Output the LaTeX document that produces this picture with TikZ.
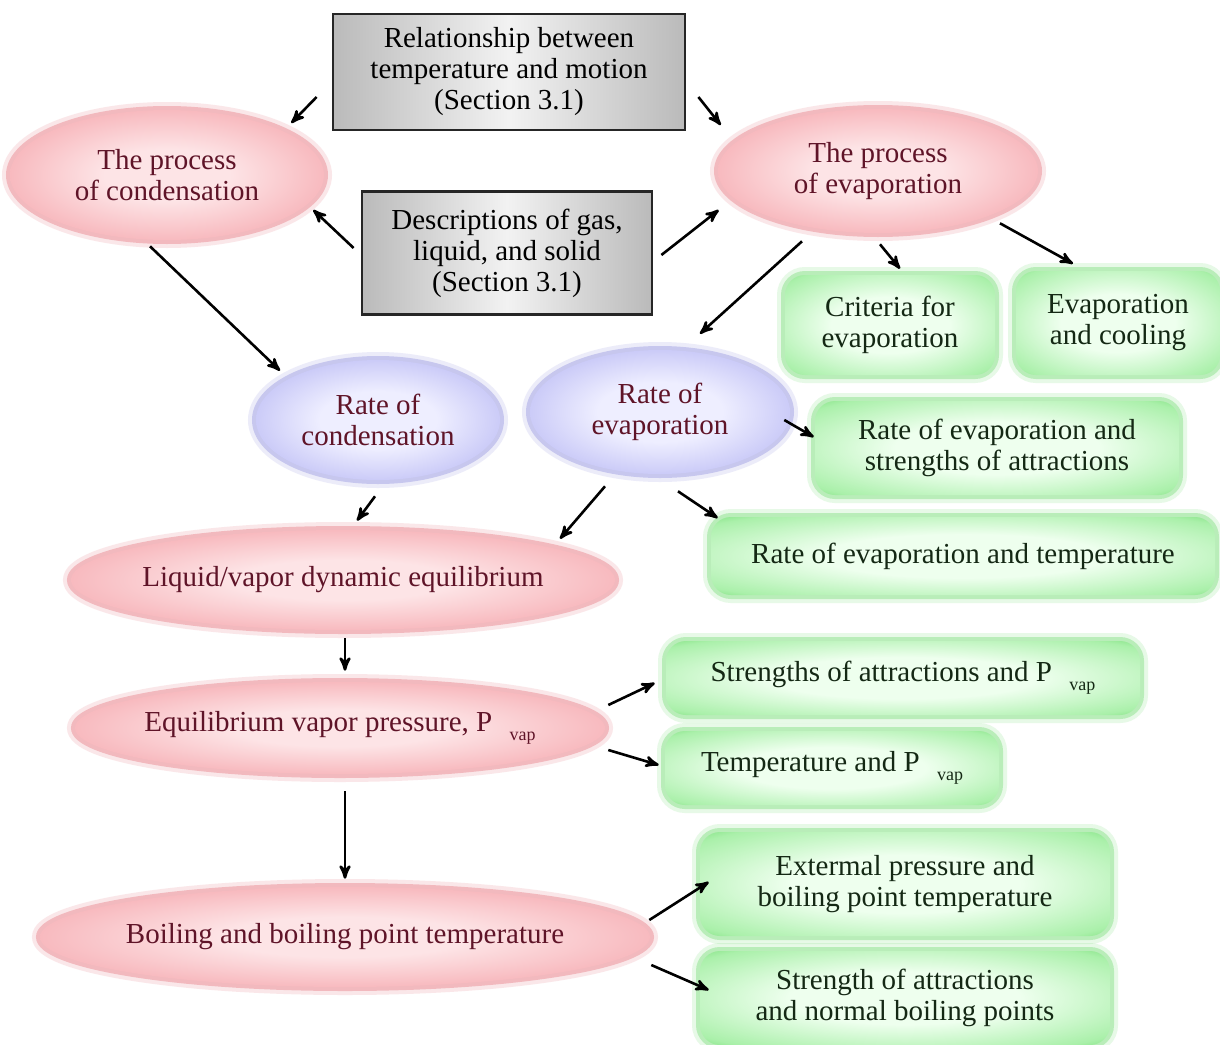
\documentclass[tikz,border=0pt]{standalone}
\usepackage{fontspec}
\setmainfont{Liberation Serif}
\usepackage{tikz}
\usetikzlibrary{arrows, shapes.geometric}

\definecolor{redrim}{RGB}{228,100,110}
\definecolor{redmid}{RGB}{246,172,178}
\definecolor{redcore}{RGB}{253,228,230}
\definecolor{bluerim}{RGB}{130,130,220}
\definecolor{bluemid}{RGB}{190,190,245}
\definecolor{bluecore}{RGB}{238,238,255}
\definecolor{greenrim}{RGB}{100,215,100}
\definecolor{greenmid}{RGB}{170,240,170}
\definecolor{greencore}{RGB}{238,255,238}
\definecolor{redtext}{RGB}{95,20,40}
\definecolor{greentext}{RGB}{20,40,20}

\pgfdeclareradialshading{redglow}{\pgfpoint{0bp}{0bp}}{color(0bp)=(redcore); color(10bp)=(redcore); color(30bp)=(redmid); color(40bp)=(redrim); color(50bp)=(redrim)}
\pgfdeclareradialshading{blueglow}{\pgfpoint{0bp}{0bp}}{color(0bp)=(bluecore); color(12bp)=(bluecore); color(30bp)=(bluemid); color(40bp)=(bluerim); color(50bp)=(bluerim)}
\pgfdeclareradialshading{greenglow}{\pgfpoint{0bp}{0bp}}{color(0bp)=(greencore); color(14bp)=(greencore); color(32bp)=(greenmid); color(40bp)=(greenrim); color(50bp)=(greenrim)}

\newcommand{\pvap}{P\hspace{0.6em}\raisebox{-0.7ex}{\fontsize{9}{9}\selectfont vap}}

\begin{document}
\begin{tikzpicture}[>=stealth',
    line width=1.3pt,
    x=0.5pt, y=-0.5pt,
    every node/.style={font=\fontsize{14.5}{15.5}\selectfont, align=center, inner sep=0pt},
    procell/.style={ellipse, shade, shading=redglow, text=redtext,
        preaction={draw=redrim, draw opacity=0.15, line width=8pt},
        preaction={draw=redrim, draw opacity=0.35, line width=4pt}},
    rateell/.style={ellipse, shade, shading=blueglow, text=redtext,
        preaction={draw=bluerim, draw opacity=0.15, line width=8pt},
        preaction={draw=bluerim, draw opacity=0.35, line width=4pt}},
    greybox/.style={rectangle, draw=black!85, line width=1.4pt,
        left color=black!27, right color=black!27, middle color=black!5},
    greenbox/.style={rectangle, rounded corners=10pt, shade, shading=greenglow, text=greentext,
        preaction={draw=greenrim, draw opacity=0.15, line width=8pt},
        preaction={draw=greenrim, draw opacity=0.35, line width=4pt}},
    wide/.style={inner xsep=-20pt}]

  \fill[white] (0,0) rectangle (1220,1044);
  \useasboundingbox (0,0) rectangle (1220,1044);

  % section boxes
  \node[greybox, minimum width=176pt, minimum height=58pt] (relbox) at (509,72)
    {Relationship between\\temperature and motion\\(Section 3.1)};
  \node[greybox, minimum width=145pt, minimum height=61.5pt] (descbox) at (507,253)
    {Descriptions of gas,\\liquid, and solid\\(Section 3.1)};

  % processes
  \node[procell, minimum width=157pt, minimum height=65pt] (condproc) at (167,175) {The process\\of condensation};
  \node[procell, minimum width=160pt, minimum height=62pt] (evapproc) at (878,171) {The process\\of evaporation};
  \node[greenbox, minimum width=105pt, minimum height=50pt] (criteria) at (890,325) {Criteria for\\evaporation};
  \node[greenbox, minimum width=102pt, minimum height=52pt] (cooling) at (1118,323) {Evaporation\\and cooling};

  % rates
  \node[rateell, minimum width=122pt, minimum height=60pt] (ratecond) at (378,420) {Rate of\\condensation};
  \node[rateell, minimum width=130pt, minimum height=62pt] (rateevap) at (660,412) {Rate of\\evaporation};
  \node[greenbox, minimum width=182pt, minimum height=47pt] (evapattr) at (997,448) {Rate of evaporation and\\strengths of attractions};
  \node[greenbox, minimum width=252pt, minimum height=39pt] (evaptemp) at (963,556) {Rate of evaporation and temperature};

  % equilibrium
  \node[procell, wide, minimum width=272pt, minimum height=50pt] (liqvap) at (343,580) {Liquid/vapor dynamic equilibrium};
  \node[procell, wide, minimum width=265pt, minimum height=46pt] (eqvap) at (340,728) {Equilibrium vapor pressure, \pvap};
  \node[greenbox, minimum width=237pt, minimum height=37pt] (attrp) at (903,678) {Strengths of attractions and \pvap};
  \node[greenbox, minimum width=167pt, minimum height=37pt] (tempp) at (832,768) {Temperature and \pvap};

  % boiling
  \node[procell, wide, minimum width=305pt, minimum height=50pt] (boiling) at (345,937) {Boiling and boiling point temperature};
  \node[greenbox, minimum width=205pt, minimum height=52pt] (extpress) at (905,884) {Extermal pressure and\\boiling point temperature};
  \node[greenbox, minimum width=205pt, minimum height=47pt] (normbp) at (905,998) {Strength of attractions\\and normal boiling points};

  % arrows
  \draw[->] ([shift={(-15,25)}]relbox.west) -- ([shift={(-34,-52)}]condproc.east);
  \draw[->] ([shift={(12,25)}]relbox.east) -- ([shift={(4,-46)}]evapproc.west);
  \draw[->] ([shift={(-7,-5)}]descbox.west) -- ([shift={(-12,35)}]condproc.east);
  \draw[->] ([shift={(8,2)}]descbox.east) -- ([shift={(2,39)}]evapproc.west);
  \draw[->] ([shift={(-17,5)}]condproc.south) -- ([shift={(-98,12)}]ratecond.north);
  \draw[->] ([shift={(-76,7)}]evapproc.south) -- ([shift={(40,-15)}]rateevap.north);
  \draw[->] ([shift={(2,10)}]evapproc.south) -- ([shift={(10,-5)}]criteria.north);
  \draw[->] ([shift={(122,-11)}]evapproc.south) -- ([shift={(-45,-6)}]cooling.north);
  \draw[->] ([shift={(-7,8)}]rateevap.east) -- ([shift={(0,-11)}]evapattr.west);
  \draw[->] ([shift={(18,16)}]rateevap.south) -- ([shift={(8,-38)}]evaptemp.west);
  \draw[->] ([shift={(-3,15)}]ratecond.south) -- ([shift={(14,-8)}]liqvap.north);
  \draw[->] ([shift={(-55,11)}]rateevap.south) -- ([shift={(217,10)}]liqvap.north);
  \draw[->] ([shift={(2,7)}]liqvap.south) -- ([shift={(5,-10)}]eqvap.north);
  \draw[->] ([shift={(2,-23)}]eqvap.east) -- ([shift={(-10,5)}]attrp.west);
  \draw[->] ([shift={(2,22)}]eqvap.east) -- ([shift={(-5,-3)}]tempp.west);
  \draw[->] ([shift={(5,16)}]eqvap.south) -- ([shift={(0,-7)}]boiling.north);
  \draw[->] ([shift={(-2,-17)}]boiling.east) -- ([shift={(10,-2)}]extpress.west);
  \draw[->] ([shift={(0,28)}]boiling.east) -- ([shift={(10,-8)}]normbp.west);
\end{tikzpicture}
\end{document}
